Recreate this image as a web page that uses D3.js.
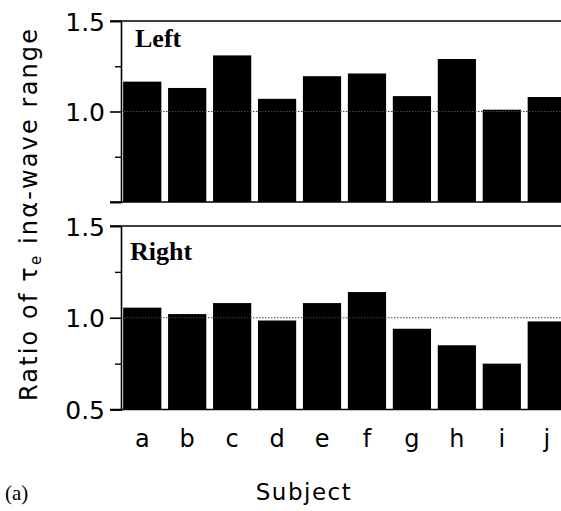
<!DOCTYPE html>
<html>
<head>
<meta charset="utf-8">
<script src="https://cdn.jsdelivr.net/npm/d3@7"></script>
<style>
  html, body { margin: 0; padding: 0; background: #fff; }
  svg { display: block; }
</style>
</head>
<body>
<svg id="chart" width="561" height="511"></svg>
<script>
// Ratio of tau_e in the alpha-wave range, per subject, for each hemisphere
const subjects = ["a", "b", "c", "d", "e", "f", "g", "h", "i", "j"];
const leftRatios = [1.165, 1.13, 1.31, 1.07, 1.195, 1.21, 1.085, 1.29, 1.01, 1.08];
const rightRatios = [1.055, 1.02, 1.08, 0.985, 1.08, 1.14, 0.94, 0.85, 0.75, 0.98];
const majorTicks = [0.5, 1.0, 1.5];
const minorTicks = [0.75, 1.25];
const panelNames = ["Left", "Right"];

const svg = d3.select("#chart");
const axisX = 121;     // left axis line
const frameX0 = 110;   // where frame lines start (outer tick end)
const frameX1 = 561;

const x = d3.scaleBand()
  .domain(subjects)
  .range([120, 569])
  .paddingInner(0.15)
  .paddingOuter(0.07);

const panels = [
  { name: panelNames[0], values: leftRatios, y0: 202, y1: 21, labelX: 135, labelY: 47 },
  { name: panelNames[1], values: rightRatios, y0: 409.5, y1: 226, labelX: 130, labelY: 260 }
];

panels.forEach((p, pi) => {
  const y = d3.scaleLinear().domain([0.5, 1.5]).range([p.y0, p.y1]);
  const g = svg.append("g");

  // bars rise from the panel floor
  g.selectAll("rect.bar")
    .data(p.values)
    .join("rect")
    .attr("class", "bar")
    .attr("x", (d, i) => x(subjects[i]))
    .attr("width", x.bandwidth())
    .attr("y", d => Math.min(y(d), y(0.5)))
    .attr("height", d => Math.abs(y(0.5) - y(d)))
    .attr("fill", "#000");

  // dotted reference line at ratio 1.0
  g.append("line")
    .attr("x1", axisX).attr("x2", frameX1)
    .attr("y1", y(1.0)).attr("y2", y(1.0))
    .attr("stroke", "#444")
    .attr("stroke-width", 1)
    .attr("stroke-dasharray", "1.5,1.5");

  // top and bottom frame lines
  [1.5, 0.5].forEach(v => {
    g.append("line")
      .attr("x1", frameX0).attr("x2", frameX1)
      .attr("y1", y(v)).attr("y2", y(v))
      .attr("stroke", "#000").attr("stroke-width", 1.6);
  });

  // left axis with outward ticks
  const axis = d3.axisLeft(y)
    .tickValues(majorTicks)
    .tickSize(11)
    .tickPadding(5)
    .tickFormat(d3.format(".1f"));
  const ag = g.append("g")
    .attr("transform", `translate(${axisX},0)`)
    .call(axis);
  ag.select(".domain").attr("stroke", "#000").attr("stroke-width", 1.6);
  ag.selectAll(".tick line").attr("stroke", "#000").attr("stroke-width", 1.6);
  ag.selectAll(".tick text")
    .attr("font-family", "DejaVu Sans, sans-serif")
    .attr("font-size", 25)
    .attr("fill", "#000")
    .attr("dy", "0.36em");
  // the upper panel carries no 0.5 label at its floor
  if (pi === 0) ag.selectAll(".tick").filter(d => d === 0.5).select("text").remove();

  const minor = d3.axisLeft(y).tickValues(minorTicks).tickSize(6).tickFormat("");
  const mg = g.append("g")
    .attr("transform", `translate(${axisX},0)`)
    .call(minor);
  mg.select(".domain").remove();
  mg.selectAll(".tick line").attr("stroke", "#000").attr("stroke-width", 1.4);

  // panel name
  g.append("text")
    .attr("x", p.labelX).attr("y", p.labelY)
    .attr("font-family", "Liberation Serif, Times New Roman, serif")
    .attr("font-weight", "bold")
    .attr("font-size", 26)
    .text(p.name);
});

// subject letters under the lower panel
svg.append("g")
  .selectAll("text")
  .data(subjects)
  .join("text")
  .attr("x", d => x(d) + x.bandwidth() / 2)
  .attr("y", 447)
  .attr("text-anchor", "middle")
  .attr("font-family", "DejaVu Sans, sans-serif")
  .attr("font-size", 24)
  .text(d => d);

// x-axis title
svg.append("text")
  .attr("x", 304).attr("y", 500)
  .attr("text-anchor", "middle")
  .attr("font-family", "DejaVu Sans, sans-serif")
  .attr("font-size", 23)
  .attr("letter-spacing", 1.5)
  .text("Subject");

// y-axis title with tau subscript e
const yt = svg.append("text")
  .attr("transform", "translate(37,215) rotate(-90)")
  .attr("text-anchor", "middle")
  .attr("font-family", "DejaVu Sans, sans-serif")
  .attr("font-size", 24)
  .attr("textLength", 372)
  .attr("lengthAdjust", "spacing");
yt.append("tspan").text("Ratio of ");
yt.append("tspan").text("τ");
yt.append("tspan").attr("font-size", 15).attr("dy", 4).text("e");
yt.append("tspan").attr("dy", -4).text(" in");
yt.append("tspan").text("α");
yt.append("tspan").text("‑wave range");

// figure tag
svg.append("text")
  .attr("x", 5).attr("y", 500)
  .attr("font-family", "Liberation Serif, Times New Roman, serif")
  .attr("font-size", 21)
  .text("(a)");
</script>
</body>
</html>
